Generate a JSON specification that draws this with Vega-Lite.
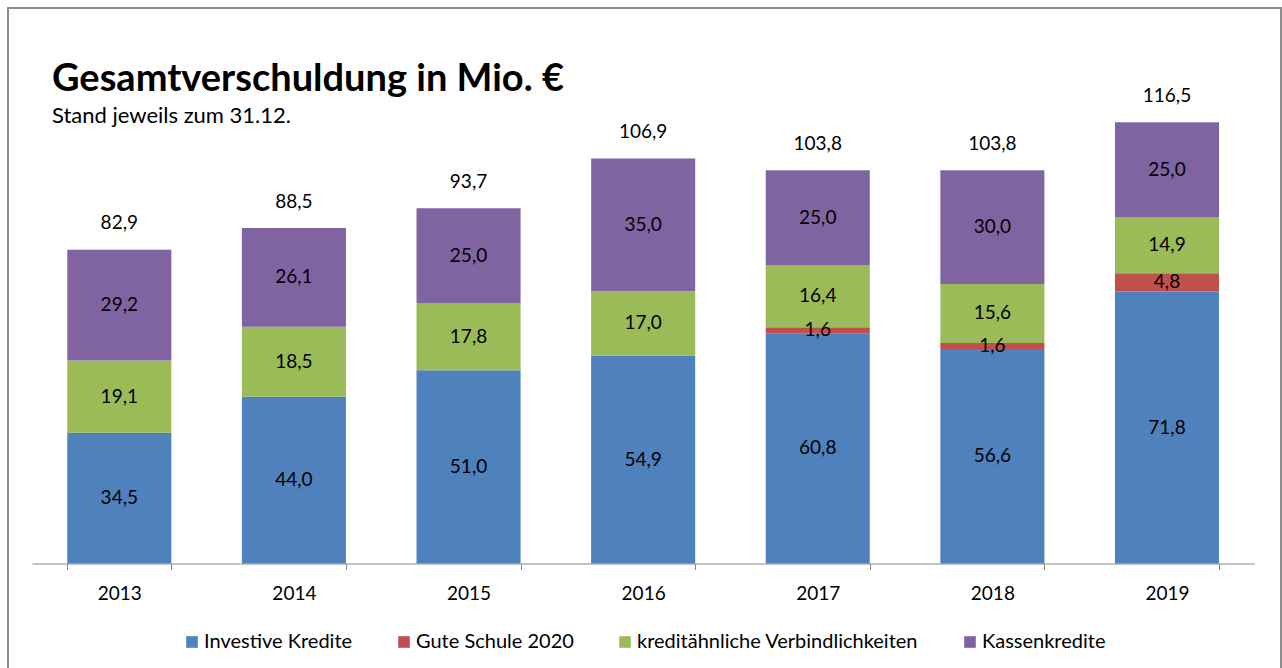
{
  "$schema": "https://vega.github.io/schema/vega-lite/v6.json",
  "width": 1273,
  "height": 663,
  "padding": {"left": 8, "top": 8, "right": 1, "bottom": 0},
  "autosize": {"type": "none"},
  "background": "white",
  "config": {
    "view": {"stroke": "#8c8c8c", "strokeWidth": 2},
    "font": "Lato",
    "locale": {"number": {"decimal": ",", "thousands": ".", "grouping": [3], "currency": ["", " €"]}}
  },
  "title": {
    "text": "Gesamtverschuldung in Mio. €",
    "subtitle": "Stand jeweils  zum 31.12.",
    "anchor": "start",
    "frame": "group",
    "font": "Lato",
    "fontSize": 38,
    "fontWeight": "bold",
    "color": "#000000",
    "subtitleFont": "Lato",
    "subtitleFontSize": 22,
    "subtitleColor": "#000000",
    "subtitlePadding": 7,
    "offset": 0,
    "dx": 44,
    "dy": 119
  },
  "datasets": {
    "parts": [
      {"year": "2013", "series": "Investive Kredite", "k": 1, "value": 34.5},
      {"year": "2013", "series": "kreditähnliche Verbindlichkeiten", "k": 3, "value": 19.1},
      {"year": "2013", "series": "Kassenkredite", "k": 4, "value": 29.2},
      {"year": "2014", "series": "Investive Kredite", "k": 1, "value": 44.0},
      {"year": "2014", "series": "kreditähnliche Verbindlichkeiten", "k": 3, "value": 18.5},
      {"year": "2014", "series": "Kassenkredite", "k": 4, "value": 26.1},
      {"year": "2015", "series": "Investive Kredite", "k": 1, "value": 51.0},
      {"year": "2015", "series": "kreditähnliche Verbindlichkeiten", "k": 3, "value": 17.8},
      {"year": "2015", "series": "Kassenkredite", "k": 4, "value": 25.0},
      {"year": "2016", "series": "Investive Kredite", "k": 1, "value": 54.9},
      {"year": "2016", "series": "kreditähnliche Verbindlichkeiten", "k": 3, "value": 17.0},
      {"year": "2016", "series": "Kassenkredite", "k": 4, "value": 35.0},
      {"year": "2017", "series": "Investive Kredite", "k": 1, "value": 60.8},
      {"year": "2017", "series": "Gute Schule 2020", "k": 2, "value": 1.6},
      {"year": "2017", "series": "kreditähnliche Verbindlichkeiten", "k": 3, "value": 16.4},
      {"year": "2017", "series": "Kassenkredite", "k": 4, "value": 25.0},
      {"year": "2018", "series": "Investive Kredite", "k": 1, "value": 56.6},
      {"year": "2018", "series": "Gute Schule 2020", "k": 2, "value": 1.6},
      {"year": "2018", "series": "kreditähnliche Verbindlichkeiten", "k": 3, "value": 15.6},
      {"year": "2018", "series": "Kassenkredite", "k": 4, "value": 30.0},
      {"year": "2019", "series": "Investive Kredite", "k": 1, "value": 71.8},
      {"year": "2019", "series": "Gute Schule 2020", "k": 2, "value": 4.8},
      {"year": "2019", "series": "kreditähnliche Verbindlichkeiten", "k": 3, "value": 14.9},
      {"year": "2019", "series": "Kassenkredite", "k": 4, "value": 25.0}
    ],
    "totals": [
      {"year": "2013", "total": 82.9},
      {"year": "2014", "total": 88.5},
      {"year": "2015", "total": 93.7},
      {"year": "2016", "total": 106.9},
      {"year": "2017", "total": 103.8},
      {"year": "2018", "total": 103.8},
      {"year": "2019", "total": 116.5}
    ]
  },
  "layer": [
    {
      "data": {"name": "parts"},
      "mark": {"type": "bar"},
      "encoding": {
        "x": {
          "field": "year",
          "type": "nominal",
          "scale": {"range": [24, 1246.3], "paddingInner": 0.404, "paddingOuter": 0.202},
          "axis": {
            "orient": "bottom",
            "offset": -107.5,
            "title": null,
            "grid": false,
            "domainColor": "#868686",
            "domainWidth": 1,
            "tickColor": "#868686",
            "tickWidth": 1,
            "tickSize": 6,
            "tickBand": "extent",
            "labelAngle": 0,
            "labelFont": "Lato",
            "labelFontSize": 19,
            "labelColor": "#000000",
            "labelPadding": 15
          }
        },
        "y": {
          "field": "value",
          "type": "quantitative",
          "stack": "zero",
          "scale": {"domain": [-28.38, 146.65], "nice": false, "zero": false},
          "axis": null
        },
        "color": {
          "field": "series",
          "type": "nominal",
          "scale": {
            "domain": ["Investive Kredite", "Gute Schule 2020", "kreditähnliche Verbindlichkeiten", "Kassenkredite"],
            "range": ["#4F81BD", "#C0504D", "#9BBB59", "#8064A2"]
          },
          "legend": {
            "orient": "none",
            "legendX": 174,
            "legendY": 624,
            "direction": "horizontal",
            "columns": 4,
            "title": null,
            "symbolType": "square",
            "symbolSize": 135,
            "symbolStrokeWidth": 0,
            "labelFont": "Lato",
            "labelFontSize": 20,
            "labelColor": "#000000",
            "labelOffset": 2,
            "columnPadding": 41,
            "labelLimit": 500
          }
        },
        "order": {"field": "k", "type": "quantitative"}
      }
    },
    {
      "data": {"name": "parts"},
      "mark": {"type": "text", "fontSize": 19, "baseline": "middle", "color": "#000000", "font": "Lato"},
      "encoding": {
        "x": {"field": "year", "type": "nominal"},
        "y": {"field": "value", "type": "quantitative", "stack": "zero", "bandPosition": 0.5, "axis": null},
        "detail": {"field": "series"},
        "order": {"field": "k", "type": "quantitative"},
        "text": {"field": "value", "type": "quantitative", "format": ".1f"}
      }
    },
    {
      "data": {"name": "totals"},
      "mark": {"type": "text", "fontSize": 19, "baseline": "middle", "color": "#000000", "font": "Lato", "dy": -26.6},
      "encoding": {
        "x": {"field": "year", "type": "nominal"},
        "y": {"field": "total", "type": "quantitative", "axis": null},
        "text": {"field": "total", "type": "quantitative", "format": ".1f"}
      }
    }
  ]
}
